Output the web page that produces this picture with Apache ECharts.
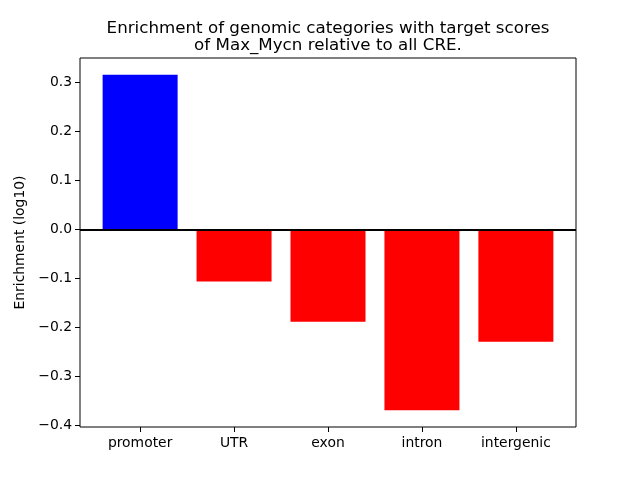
<!DOCTYPE html>
<html>
<head>
<meta charset="utf-8">
<script src="https://cdn.jsdelivr.net/npm/echarts@6/dist/echarts.min.js"></script>
<style>html,body{margin:0;padding:0;background:#fff;}#c{width:640px;height:480px;}</style>
</head>
<body>
<div id="c"></div>
<script>
var categories = ['promoter', 'UTR', 'exon', 'intron', 'intergenic'];
var values = [0.316, -0.106, -0.188, -0.369, -0.229];
var yTicks = [-0.4, -0.3, -0.2, -0.1, 0.0, 0.1, 0.2, 0.3];
var titleLines = ['Enrichment of genomic categories with target scores', 'of Max_Mycn relative to all CRE.'];
var yLabel = 'Enrichment (log10)';

var FONT = 'DejaVu Sans';
var chart = echarts.init(document.getElementById('c'), null, {renderer: 'canvas'});
var data = values.map(function (v, i) {
  return { value: [i, v], itemStyle: { color: v >= 0 ? '#0000ff' : '#ff0000' } };
});
var xIdx = categories.map(function (c, i) { return i; });
chart.setOption({
  animation: false,
  backgroundColor: '#ffffff',
  title: {
    text: titleLines.join('\n'),
    left: 323, top: 15, textAlign: 'center',
    textStyle: { fontFamily: FONT, fontSize: 16.7, fontWeight: 'normal', color: '#000', lineHeight: 17 }
  },
  grid: { left: 80, right: 64, top: 58, bottom: 53, show: true, borderColor: '#000', borderWidth: 1, backgroundColor: 'transparent' },
  xAxis: {
    type: 'value', min: -0.64, max: 4.64,
    axisLine: { show: false, onZero: false },
    splitLine: { show: false },
    axisTick: { show: true, customValues: xIdx, length: 5, lineStyle: { color: '#000' } },
    axisLabel: { show: true, customValues: xIdx, margin: 9, fontFamily: FONT, fontSize: 13.9, color: '#000',
      formatter: function (v) { return categories[Math.round(v)] || ''; } }
  },
  yAxis: {
    type: 'value', min: -0.403, max: 0.35,
    name: yLabel, nameLocation: 'middle', nameGap: 50,
    nameTextStyle: { fontFamily: FONT, fontSize: 13.9, color: '#000' },
    axisLine: { show: false, onZero: false },
    splitLine: { show: false },
    axisTick: { show: true, customValues: yTicks, length: 5, lineStyle: { color: '#000' } },
    axisLabel: { show: true, customValues: yTicks, margin: 8, fontFamily: FONT, fontSize: 13.9, color: '#000',
      formatter: function (v) { return (Math.abs(v) < 1e-9 ? 0 : v).toFixed(1).replace('-', '\u2212'); } }
  },
  series: [{
    type: 'bar', data: data, barWidth: 75,
    markLine: {
      silent: true, symbol: ['none', 'none'], label: { show: false },
      lineStyle: { color: '#000', width: 2, type: 'solid' },
      data: [{ yAxis: 0 }]
    }
  }]
});
</script>
</body>
</html>
